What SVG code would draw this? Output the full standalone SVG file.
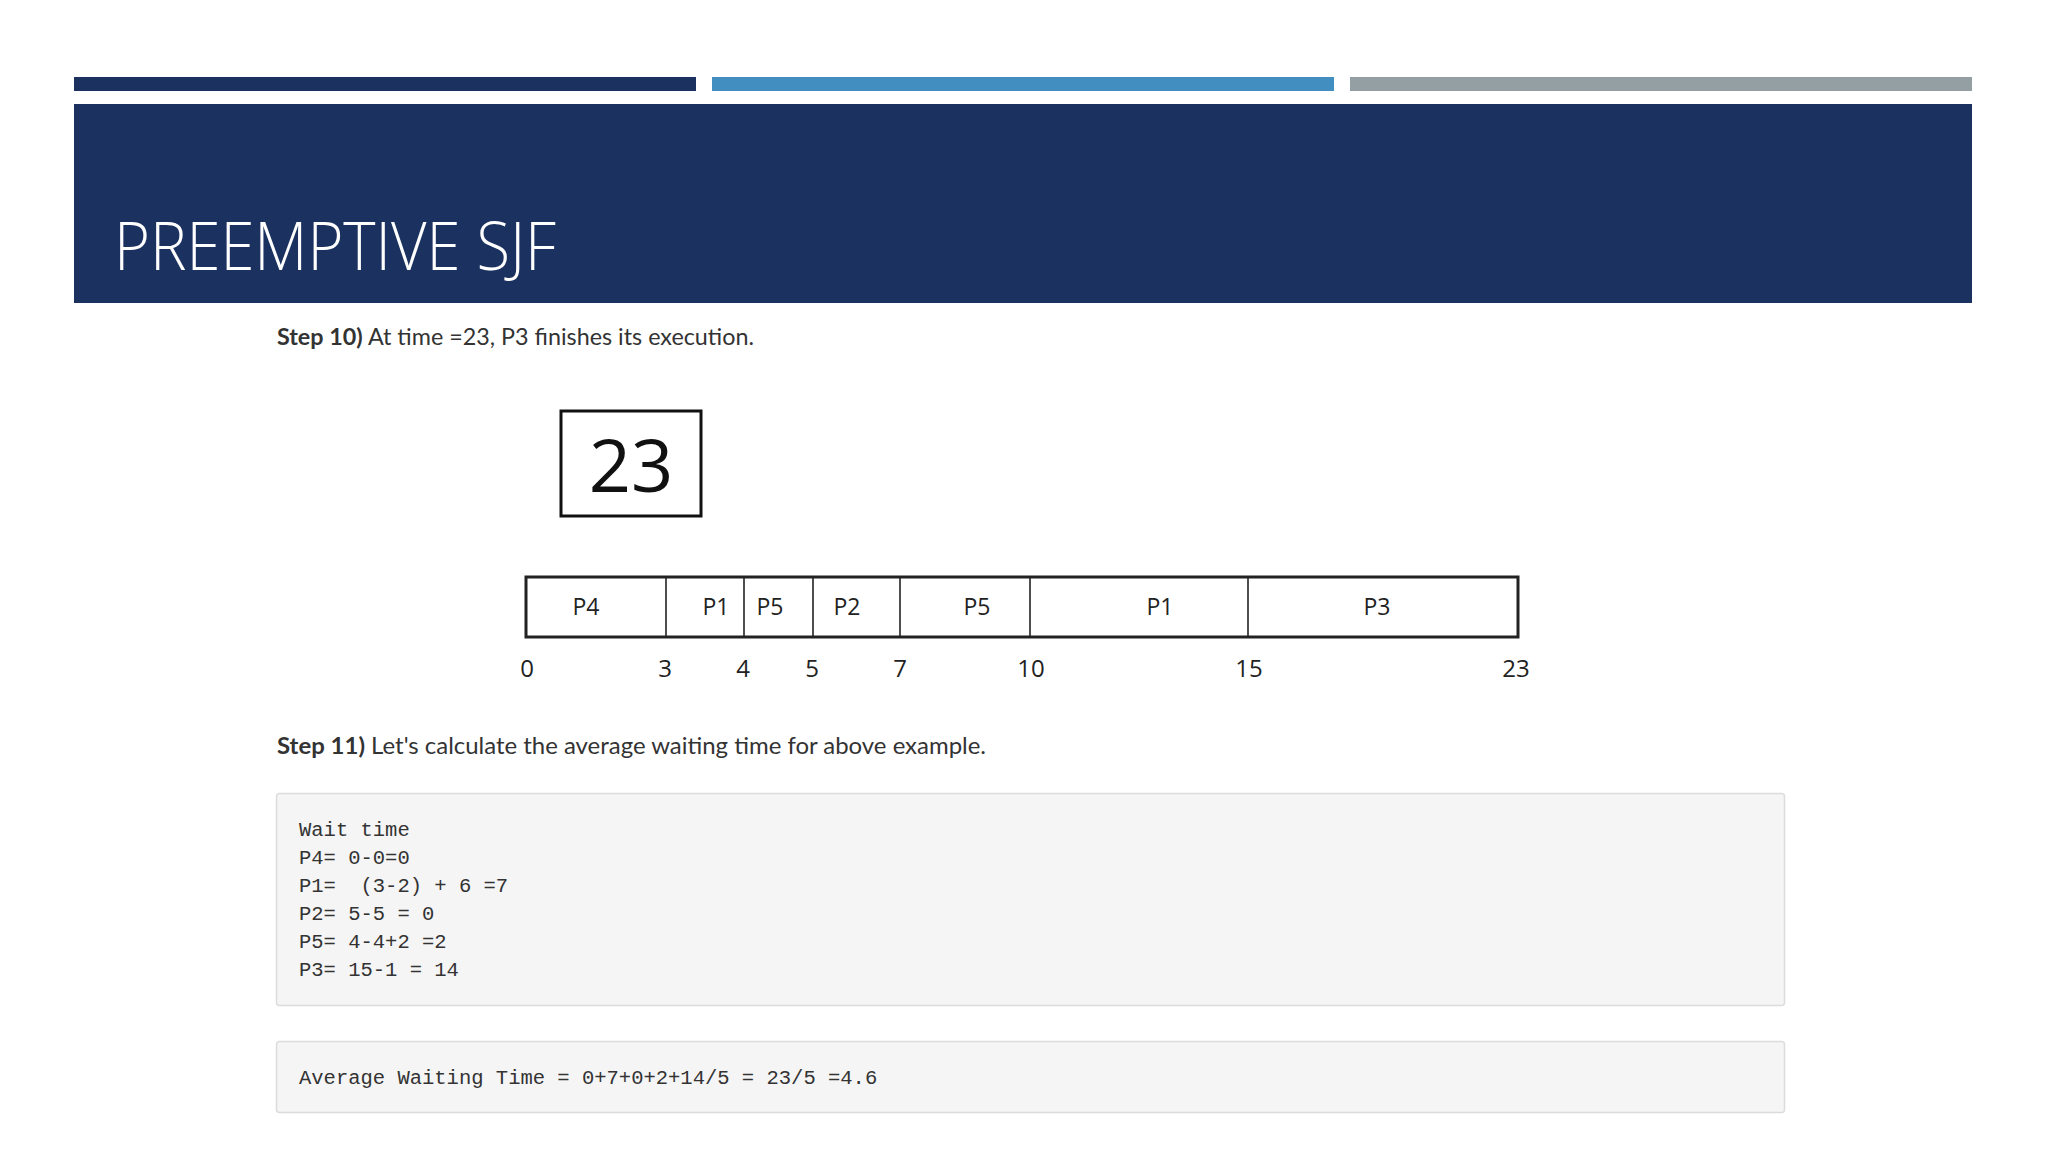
<svg xmlns="http://www.w3.org/2000/svg" width="2048" height="1152" viewBox="0 0 2048 1152">
<style>
.step{font-family:Lato,"Open Sans","Liberation Sans",sans-serif;font-size:23px;fill:#333}
.b{font-weight:bold}
.gl{font-family:"Open Sans","Liberation Sans",sans-serif;font-size:23px;fill:#222;text-anchor:middle}
.num{font-family:"Open Sans","Liberation Sans",sans-serif;font-size:24px;fill:#222;text-anchor:middle}
.code{font-family:"Liberation Mono","DejaVu Sans Mono",monospace;font-size:20.5px;fill:#333}
.box{fill:#F5F5F5;stroke:#DCDCDC;stroke-width:1.5}
.div{stroke:#222;stroke-width:1.6}
</style>
<rect width="2048" height="1152" fill="#FFFFFF"/>
<g id="topbars">
<rect x="74" y="77" width="622" height="14" fill="#1B3160"/>
<rect x="712" y="77" width="622" height="14" fill="#438EC0"/>
<rect x="1350" y="77" width="622" height="14" fill="#949FA4"/>
</g>
<g id="header">
<rect x="74" y="104" width="1898" height="199" fill="#1B3160"/>
<text x="114" y="270" font-family="'Open Sans','Liberation Sans',sans-serif" font-weight="300" font-size="66" fill="#FFFFFF" textLength="442" lengthAdjust="spacingAndGlyphs">PREEMPTIVE SJF</text>
</g>
<g id="step10">
<text class="step" x="277" y="345" textLength="477" lengthAdjust="spacingAndGlyphs"><tspan class="b">Step 10)</tspan> At time =23, P3 finishes its execution.</text>
</g>
<g id="timebox">
<rect x="561" y="411" width="140" height="105" fill="#FFFFFF" stroke="#111" stroke-width="3"/>
<text x="631" y="492" font-family="'Open Sans','Liberation Sans',sans-serif" font-size="74" fill="#111" text-anchor="middle">23</text>
</g>
<g id="gantt">
<rect x="526" y="577" width="992" height="60" fill="#FFFFFF" stroke="#222" stroke-width="3"/>
<g id="connectors">
<line class="div" x1="666" y1="577" x2="666" y2="637"/>
<line class="div" x1="744" y1="577" x2="744" y2="637"/>
<line class="div" x1="813" y1="577" x2="813" y2="637"/>
<line class="div" x1="900" y1="577" x2="900" y2="637"/>
<line class="div" x1="1030" y1="577" x2="1030" y2="637"/>
<line class="div" x1="1248" y1="577" x2="1248" y2="637"/>
</g>
<text class="gl" x="586" y="615">P4</text>
<text class="gl" x="716" y="615">P1</text>
<text class="gl" x="770" y="615">P5</text>
<text class="gl" x="847" y="615">P2</text>
<text class="gl" x="977" y="615">P5</text>
<text class="gl" x="1160" y="615">P1</text>
<text class="gl" x="1377" y="615">P3</text>
<text class="num" x="527" y="677">0</text>
<text class="num" x="665" y="677">3</text>
<text class="num" x="743" y="677">4</text>
<text class="num" x="812" y="677">5</text>
<text class="num" x="900" y="677">7</text>
<text class="num" x="1031" y="677">10</text>
<text class="num" x="1249" y="677">15</text>
<text class="num" x="1516" y="677">23</text>
</g>
<g id="step11">
<text class="step" x="277" y="754" textLength="709" lengthAdjust="spacingAndGlyphs"><tspan class="b">Step 11)</tspan> Let's calculate the average waiting time for above example.</text>
</g>
<g id="codebox1">
<rect class="box" x="276.5" y="793.5" width="1508" height="212" rx="3"/>
<text class="code" x="299" y="836">Wait time</text>
<text class="code" x="299" y="864">P4= 0-0=0</text>
<text class="code" x="299" y="892" xml:space="preserve">P1=  (3-2) + 6 =7</text>
<text class="code" x="299" y="920">P2= 5-5 = 0</text>
<text class="code" x="299" y="948">P5= 4-4+2 =2</text>
<text class="code" x="299" y="976">P3= 15-1 = 14</text>
</g>
<g id="codebox2">
<rect class="box" x="276.5" y="1041.5" width="1508" height="71" rx="3"/>
<text class="code" x="299" y="1084">Average Waiting Time = 0+7+0+2+14/5 = 23/5 =4.6</text>
</g>
</svg>
